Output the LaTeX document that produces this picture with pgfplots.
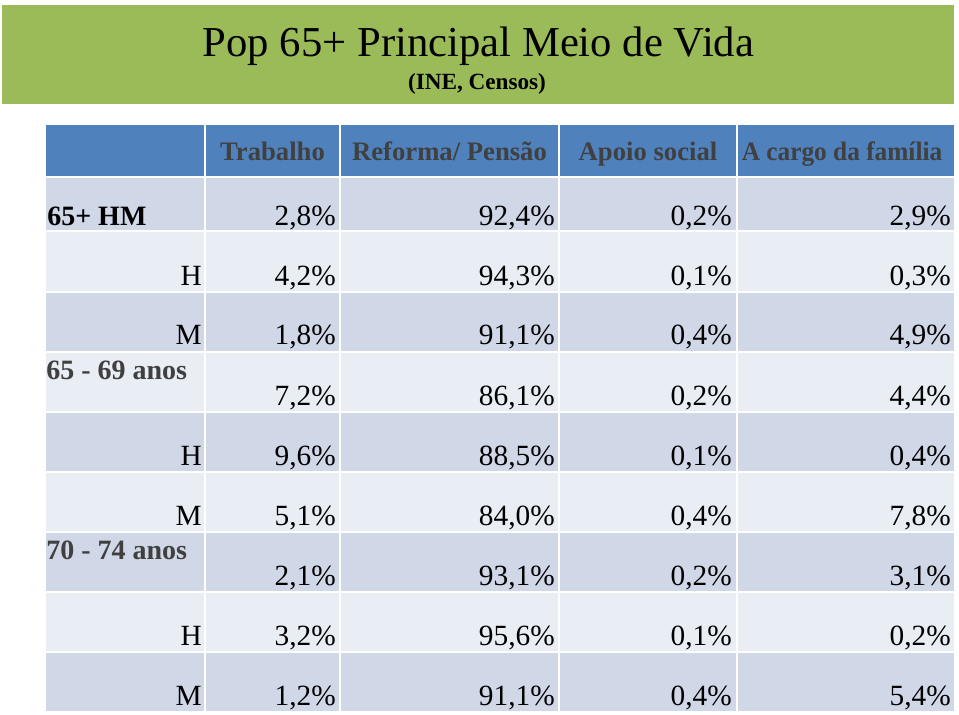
\documentclass[border=0pt]{standalone}
\usepackage{pgfplots}
\pgfplotsset{compat=1.18}
\usepackage{pgfplotstable}
\usepackage{graphicx}
\usepackage{fontspec}
\setmainfont{Liberation Serif}

\definecolor{titlegreen}{HTML}{9BBB59}
\definecolor{headblue}{HTML}{4F81BD}
\definecolor{rowdark}{HTML}{D0D8E8}
\definecolor{rowlight}{HTML}{E9EDF4}
\definecolor{darktext}{HTML}{404040}
\newcommand\fs[1]{\fontsize{#1}{#1}\selectfont}

% baseline (px from top) and values per column
\pgfplotstableread{
base trab ref apoio fam
225 2.8 92.4 0.2 2.9
285 4.2 94.3 0.1 0.3
344 1.8 91.1 0.4 4.9
405 7.2 86.1 0.2 4.4
465 9.6 88.5 0.1 0.4
525 5.1 84.0 0.4 7.8
585 2.1 93.1 0.2 3.1
645 3.2 95.6 0.1 0.2
705 1.2 91.1 0.4 5.4
}\valores

\pgfplotstableread[col sep=comma]{
base,label
285,H
344,M
465,H
525,M
645,H
705,M
}\sexo

\pgfplotsset{
  valcol/.style={only marks, mark=none, point meta=explicit,
    nodes near coords={\pgfmathprintnumber[fixed,fixed zerofill,precision=1,use comma]{\pgfplotspointmeta}\%},
    nodes near coords style={anchor=base east, inner sep=0pt, font=\fs{22}, text=black}},
}

\begin{document}
\begin{tikzpicture}
\begin{axis}[
  width=719.25pt, height=535.5pt, scale only axis,
  xmin=0, xmax=959, ymin=0, ymax=714, y dir=reverse,
  hide axis, clip=false,
  /pgf/number format/assume math mode=true,
]
% background and cells
\fill[white] (axis cs:0,0) rectangle (axis cs:959,714);
\fill[titlegreen] (axis cs:2,5) rectangle (axis cs:954,104);
\fill[headblue] (axis cs:46,125) rectangle (axis cs:954,176);
\fill[rowdark]  (axis cs:46,178) rectangle (axis cs:954,230);
\fill[rowlight] (axis cs:46,232) rectangle (axis cs:954,291);
\fill[rowdark]  (axis cs:46,293) rectangle (axis cs:954,351);
\fill[rowlight] (axis cs:46,353) rectangle (axis cs:954,411);
\fill[rowdark]  (axis cs:46,413) rectangle (axis cs:954,471);
\fill[rowlight] (axis cs:46,473) rectangle (axis cs:954,531);
\fill[rowdark]  (axis cs:46,533) rectangle (axis cs:954,591);
\fill[rowlight] (axis cs:46,593) rectangle (axis cs:954,651);
\fill[rowdark]  (axis cs:46,653) rectangle (axis cs:954,711);
\draw[white, line width=1.5pt] (axis cs:205,125) -- (axis cs:205,711)
  (axis cs:340,125) -- (axis cs:340,711)
  (axis cs:559,125) -- (axis cs:559,711)
  (axis cs:737,125) -- (axis cs:737,711);

% title
\node[anchor=base, font=\fs{32}] at (axis cs:478.5,56) {Pop 65+ Principal Meio de Vida};
\node[anchor=base, font=\fs{17.4}\bfseries] at (axis cs:477,89) {(INE, Censos)};

% header
\begin{scope}[every node/.style={anchor=base, font=\fs{20}\bfseries, text=darktext, inner sep=0pt}]
\node at (axis cs:272.5,160) {Trabalho};
\node at (axis cs:449.5,160) {Reforma/ Pensão};
\node at (axis cs:648,160) {Apoio social};
\node at (axis cs:842,160) {\scalebox{0.95}[1]{A cargo da família}};
\end{scope}

% row groups
\node[anchor=base west, inner sep=0pt, font=\fs{21}\bfseries] at (axis cs:47,225) {65+ HM};
\node[anchor=base west, inner sep=0pt, font=\fs{21}\bfseries, text=darktext] at (axis cs:46,379) {65 - 69 anos};
\node[anchor=base west, inner sep=0pt, font=\fs{21}\bfseries, text=darktext] at (axis cs:46,559) {70 - 74 anos};

\addplot[only marks, mark=none, point meta=explicit symbolic, nodes near coords,
  nodes near coords style={anchor=base east, inner sep=0pt, font=\fs{22}, text=black}]
  table[x expr=202, y=base, meta=label] {\sexo};

\addplot[valcol] table[x expr=336, y=base, meta=trab] {\valores};
\addplot[valcol] table[x expr=555, y=base, meta=ref] {\valores};
\addplot[valcol] table[x expr=732, y=base, meta=apoio] {\valores};
\addplot[valcol] table[x expr=951, y=base, meta=fam] {\valores};
\end{axis}
\end{tikzpicture}
\end{document}
